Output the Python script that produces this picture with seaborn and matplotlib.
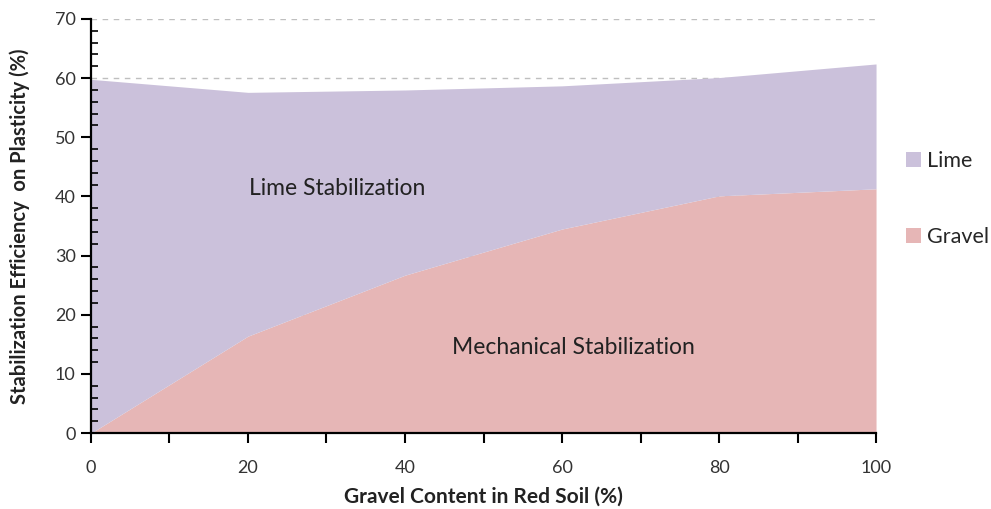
import matplotlib
matplotlib.use("Agg")
import matplotlib.pyplot as plt
import seaborn as sns
import numpy as np
from matplotlib.ticker import MultipleLocator
from matplotlib.patches import Patch

gravel_content = [0, 20, 40, 60, 80, 100]
gravel = [0.0, 16.4, 26.7, 34.5, 40.1, 41.3]
lime = [59.8, 41.2, 31.3, 24.2, 20.0, 21.1]
series_names = ["Lime", "Gravel"]
colors = {"Lime": "#CBC1DB", "Gravel": "#E6B6B6"}
grid_values = [10, 20, 30, 40, 50, 60, 70]

sns.set_theme(style="white")
plt.rcParams['font.family'] = ['Lato', 'DejaVu Sans']

fig = plt.figure(figsize=(9.91, 5.09), dpi=100)
ax = fig.add_axes([0.0918, 0.149, 0.7922, 0.8137])
ax.set_axisbelow(False)

for g in grid_values:
    ax.axhline(g, linestyle=(0, (4, 4)), color="#BFBFBF", linewidth=1, zorder=0.5)
ax.stackplot(gravel_content, gravel, lime,
             colors=[colors["Gravel"], colors["Lime"]], zorder=1, linewidth=0)

ax.set_xlim(0, 100)
ax.set_ylim(0, 70)
ax.xaxis.set_major_locator(MultipleLocator(20))
ax.xaxis.set_minor_locator(MultipleLocator(10))
ax.yaxis.set_major_locator(MultipleLocator(10))
ax.yaxis.set_minor_locator(MultipleLocator(2))

for s in ["top", "right"]:
    ax.spines[s].set_visible(False)
for s in ["left", "bottom"]:
    ax.spines[s].set_color("black")
    ax.spines[s].set_linewidth(1.6)
    ax.spines[s].set_zorder(5)

ax.tick_params(axis="y", which="major", direction="out", length=7, width=1.5,
               color="black", left=True, labelsize=13, labelcolor="#333333", pad=4)
ax.tick_params(axis="y", which="minor", direction="in", length=5, width=1.2,
               color="black", left=True)
ax.tick_params(axis="x", which="both", direction="out", length=7, width=1.5,
               color="black", bottom=True, labelsize=13, labelcolor="#333333", pad=12)

ax.set_xlabel("Gravel Content in Red Soil (%)", fontsize=15, fontweight="bold",
              color="#222222", labelpad=8)
ax.set_ylabel("Stabilization Efficiency  on Plasticity (%)", fontsize=14.5,
              fontweight="bold", color="#222222", labelpad=18)

ax.text(31.3, 41.4, "Lime Stabilization", ha="center", va="center",
        fontsize=16.5, color="#222222", zorder=6)
ax.text(61.4, 14.5, "Mechanical Stabilization", ha="center", va="center",
        fontsize=16.5, color="#222222", zorder=6)

handles = [Patch(facecolor=colors[n], edgecolor="none") for n in series_names]
fig.legend(handles, series_names, loc="center left", bbox_to_anchor=(0.914, 0.609),
           frameon=False, fontsize=15.5, labelspacing=2.6, handlelength=0.7,
           handleheight=0.7, handletextpad=0.3, borderpad=0, borderaxespad=0)

fig.savefig("out.png", dpi=100)
